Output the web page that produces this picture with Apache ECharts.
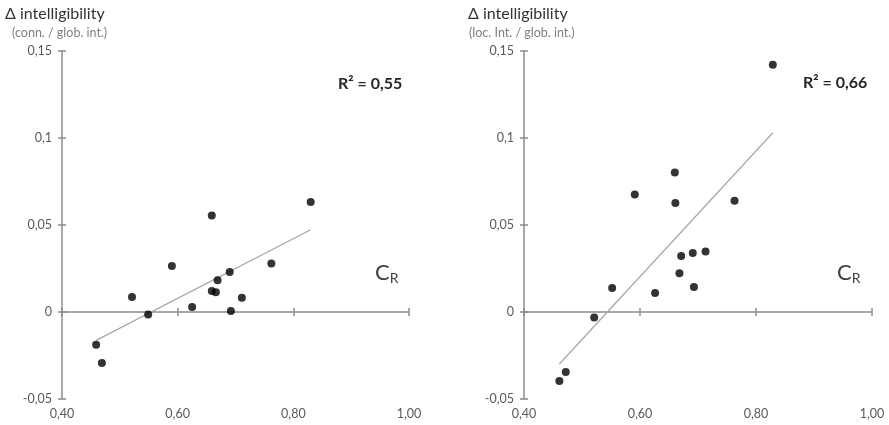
<!DOCTYPE html>
<html><head><meta charset="utf-8">
<script src="https://cdn.jsdelivr.net/npm/echarts@6/dist/echarts.min.js"></script>
<style>html,body{margin:0;padding:0;background:#fff}#c{width:889px;height:425px}</style>
</head><body><div id="c"></div>
<script>
// ---- data ----
const xTicks = [0.40, 0.60, 0.80, 1.00];
const yTicks = [-0.05, 0, 0.05, 0.10, 0.15];

const leftX = [0.459, 0.469, 0.521, 0.549, 0.590, 0.625, 0.659, 0.659, 0.666, 0.669, 0.690, 0.692, 0.711, 0.762, 0.830];
const leftY = [-0.0188, -0.0293, 0.0086, -0.0014, 0.0264, 0.0029, 0.0555, 0.0121, 0.0113, 0.0182, 0.0230, 0.0006, 0.0082, 0.0279, 0.0632];
const leftTrendX = [0.459, 0.830];
const leftTrendY = [-0.0163, 0.0473];
const leftR2 = '0,55';

const rightX = [0.461, 0.472, 0.521, 0.552, 0.591, 0.626, 0.660, 0.661, 0.668, 0.671, 0.691, 0.693, 0.713, 0.763, 0.829];
const rightY = [-0.0397, -0.0345, -0.0031, 0.0138, 0.0676, 0.0109, 0.0802, 0.0626, 0.0222, 0.0322, 0.0339, 0.0144, 0.0348, 0.0640, 0.1421];
const rightTrendX = [0.461, 0.829];
const rightTrendY = [-0.0299, 0.1030];
const rightR2 = '0,66';

const titleMain = 'Δ intelligibility';
const leftSub = '(conn. / glob. int.)';
const rightSub = '(loc. Int. / glob. int.)';

// ---- chart ----
const FONT = 'Lato';
const AX = '#8c8c8c';
const LBL = '#595959';
const zip = (a, b) => a.map((v, i) => [v, b[i]]);
const fmt = v => String(+(+v).toFixed(2)).replace('.', ',');

const grids = [
  { left: 62, top: 51, width: 347, height: 348 },
  { left: 524, top: 51, width: 348, height: 348 }
];

const xAxes = [], yAxes = [];
grids.forEach((g, gi) => {
  const base = { type: 'value', gridIndex: gi, min: xTicks[0], max: xTicks[xTicks.length - 1], interval: 0.2, splitLine: { show: false } };
  xAxes.push(Object.assign({}, base, {
    position: 'bottom', axisLine: { show: false, onZero: false }, axisTick: { show: false },
    axisLabel: { color: LBL, fontSize: 12.5, fontFamily: FONT, margin: 8, formatter: v => Number(v).toFixed(2).replace('.', ',') }
  }));
  xAxes.push(Object.assign({}, base, {
    position: 'bottom', axisLine: { show: true, onZero: true, lineStyle: { color: AX, width: 1.5 } },
    axisTick: { show: true, inside: false, length: 4, lineStyle: { color: AX, width: 1.5 } },
    axisLabel: { show: false }
  }));
  xAxes.push(Object.assign({}, base, {
    position: 'bottom', axisLine: { show: false, onZero: true },
    axisTick: { show: true, inside: true, length: 4, lineStyle: { color: AX, width: 1.5 } },
    axisLabel: { show: false }
  }));
  const ybase = { type: 'value', gridIndex: gi, position: 'left', min: yTicks[0], max: yTicks[yTicks.length - 1], interval: 0.05, splitLine: { show: false } };
  yAxes.push(Object.assign({}, ybase, {
    axisLine: { show: true, onZero: false, lineStyle: { color: AX, width: 1.5 } },
    axisTick: { show: true, inside: false, length: 4, lineStyle: { color: AX, width: 1.5 } },
    axisLabel: { color: LBL, fontSize: 12.5, fontFamily: FONT, margin: 10, formatter: fmt }
  }));
  yAxes.push(Object.assign({}, ybase, {
    axisLine: { show: false, onZero: false },
    axisTick: { show: true, inside: true, length: 4, lineStyle: { color: AX, width: 1.5 } },
    axisLabel: { show: false }
  }));
});

const series = [];
[[leftX, leftY, leftTrendX, leftTrendY], [rightX, rightY, rightTrendX, rightTrendY]].forEach((d, gi) => {
  series.push({
    type: 'line', xAxisIndex: gi * 3, yAxisIndex: gi * 2, data: zip(d[2], d[3]),
    symbol: 'none', lineStyle: { color: '#a6a6a6', width: 1.2 }, silent: true, z: 2
  });
  series.push({
    type: 'scatter', xAxisIndex: gi * 3, yAxisIndex: gi * 2, data: zip(d[0], d[1]),
    symbol: 'circle', symbolSize: 8, itemStyle: { color: '#000' }, z: 3
  });
});

const txt = (x, y, text, size, color, weight) => ({
  type: 'text', x, y, style: { text, fontSize: size, fill: color, fontFamily: FONT, fontWeight: weight || 'normal', verticalAlign: 'middle', align: 'left' }
});
const crText = (x, y) => ({
  type: 'text', x, y, style: {
    text: '{c|C}{r|R}', verticalAlign: 'middle', align: 'left',
    rich: { c: { fontSize: 22, fontFamily: FONT, fill: '#404040', fontWeight: 'normal' }, r: { fontSize: 14, fontFamily: FONT, fill: '#404040', padding: [10, 0, 0, 0] } }
  }
});

const graphic = [
  txt(5, 14, titleMain, 16, '#333333'),
  txt(12, 33, leftSub, 12.5, '#7f7f7f'),
  txt(468, 14, titleMain, 16, '#333333'),
  txt(469, 33, rightSub, 12.5, '#7f7f7f'),
  txt(338, 84, 'R² = ' + leftR2, 16, '#262626', 'bold'),
  txt(803, 83, 'R² = ' + rightR2, 16, '#262626', 'bold'),
  crText(375, 273),
  crText(837, 273)
];

const chart = echarts.init(document.getElementById('c'), null, { renderer: 'canvas' });
chart.setOption({
  animation: false,
  backgroundColor: '#ffffff',
  grid: grids,
  xAxis: xAxes,
  yAxis: yAxes,
  series,
  graphic
});
</script></body></html>
